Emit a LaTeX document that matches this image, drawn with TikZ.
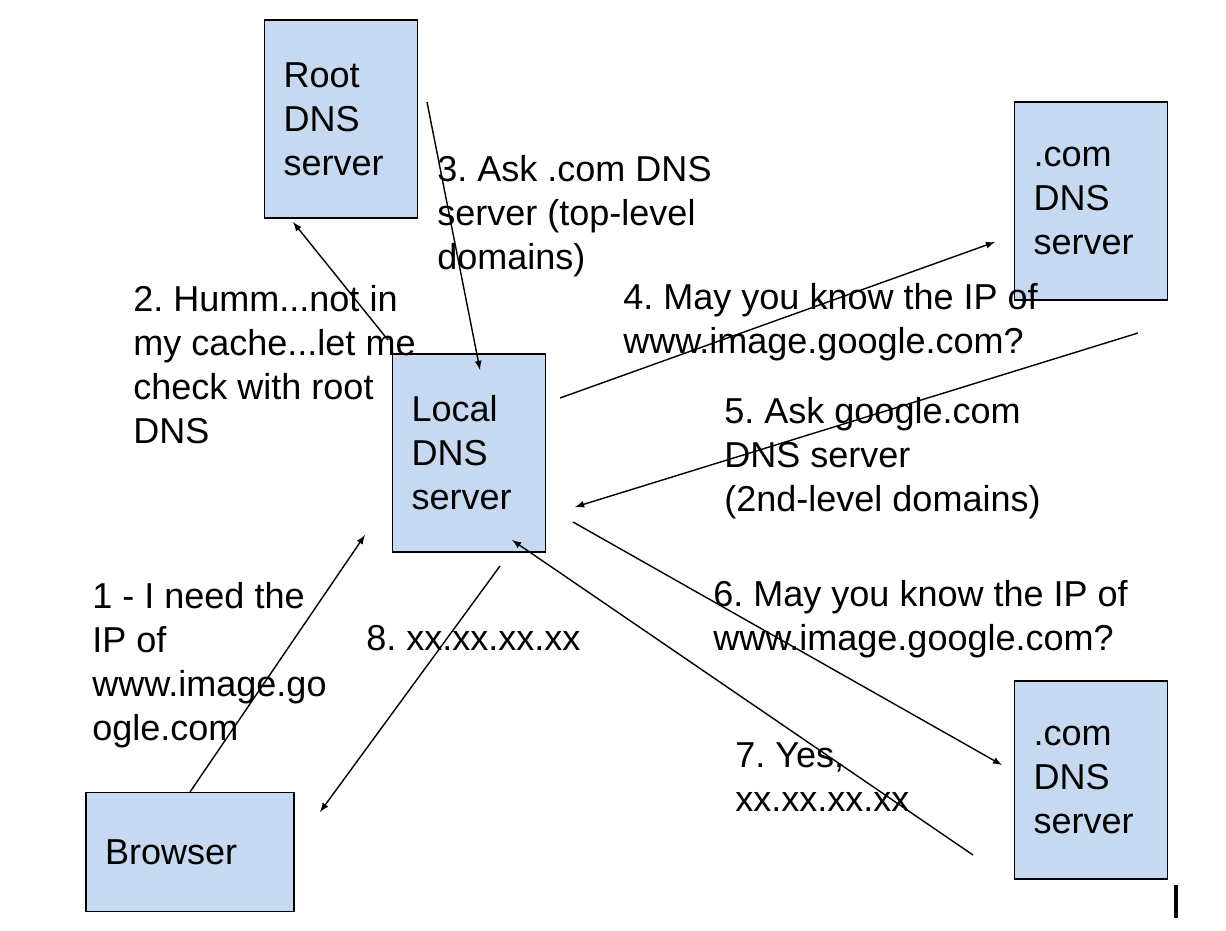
\documentclass[tikz,border=0pt]{standalone}
\usepackage{fontspec}
\setmainfont{Liberation Sans}
\usetikzlibrary{positioning}
\frenchspacing

\begin{document}
\begin{tikzpicture}[
        x=0.02cm, y=-0.02cm,
        server/.style={rectangle, draw, thick, fill={rgb,255:red,198;green,217;blue,240}, minimum width=3.06cm, minimum height=3.96cm, text width=2.3cm, inner xsep=0.38cm, align=left},
        note/.style={anchor=north west, inner sep=0pt, align=left},
        line/.style={-latex, thick}
    ]
        \useasboundingbox (0,0) rectangle (1226,930);
        \tikzset{every node/.append style={font=\fontsize{20.5}{25}\selectfont}}

        % Servers
        \node[server] (root) at (341,119) {Root\\DNS\\server};
        \node[server] (local) at (469,453) {Local\\DNS\\server};
        \node[server] (tld) at (1091,201) {.com\\DNS\\server};
        \node[server] (sld) at (1091,780) {.com\\DNS\\server};
        \node[server, minimum width=4.12cm, minimum height=2.38cm, text width=3.4cm] (browser) at (190,852) {Browser};

        % Connector ends
        \coordinate (b1) at (190,792);   \coordinate (l1) at (365,535);
        \coordinate (l8) at (500,566);   \coordinate (b8) at (320,812);
        \coordinate (l2) at (388,340);   \coordinate (r2) at (293,222);
        \coordinate (r3) at (427,102);   \coordinate (l3) at (480,370);
        \coordinate (l4) at (560,398);   \coordinate (t4) at (995,242);
        \coordinate (t5) at (1138,333);  \coordinate (l5) at (575,507);
        \coordinate (l6) at (573,522);   \coordinate (s6) at (1002,765);
        \coordinate (s7) at (973,855);   \coordinate (l7) at (512,540);

        \draw[line] (b1) -- (l1);
        \draw[line] (l2) -- (r2);
        \draw[line] (r3) -- (l3);
        \draw[line] (l4) -- (t4);
        \draw[line] (t5) -- (l5);
        \draw[line] (l6) -- (s6);
        \draw[line] (s7) -- (l7);
        \draw[line] (l8) -- (b8);

        % Labels
        \node[note] (n1) at (92,582) {1 - I need the\\IP of\\www.image.go\\ogle.com};
        \node[note] (n2) at (133,285) {2. Humm...not in\\my cache...let me\\check with root\\DNS};
        \node[note] (n3) at (437,155) {3. Ask .com DNS\\server (top-level\\domains)};
        \node[note] (n4) at (623,283) {4. May you know the IP of\\www.image.google.com?};
        \node[note] (n5) at (724,397) {5. Ask google.com\\DNS server\\(2nd-level domains)};
        \node[note] (n6) at (713,580) {6. May you know the IP of\\www.image.google.com?};
        \node[note] (n7) at (735,742) {7. Yes,\\xx.xx.xx.xx};
        \node[note] (n8) at (366,625) {8. xx.xx.xx.xx};

        % Cursor
        \draw[line width=2.5pt] (1176,885) -- (1176,918);
    \end{tikzpicture}
\end{document}
